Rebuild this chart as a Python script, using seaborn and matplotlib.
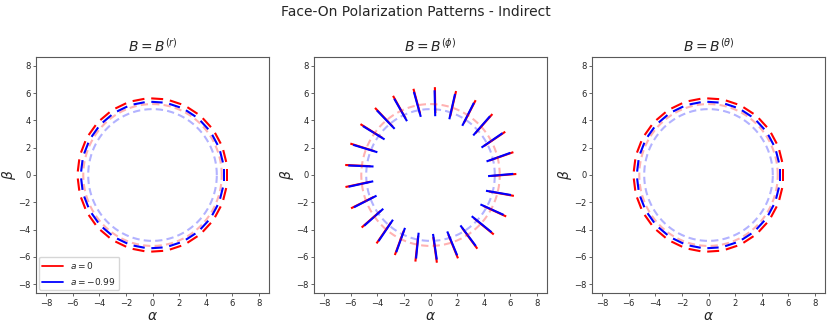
import numpy as np
import seaborn as sns
import matplotlib.pyplot as plt
from matplotlib.lines import Line2D

# sample points around the ring (degrees)
ring_angles = [0.0, 14.4, 28.8, 43.2, 57.6, 72.0, 86.4, 100.8, 115.2, 129.6, 144.0, 158.4,
               172.8, 187.2, 201.6, 216.0, 230.4, 244.8, 259.2, 273.6, 288.0, 302.4,
               316.8, 331.2, 345.6]

panel_titles = [r"$B = B^{(r)}$", r"$B = B^{(\phi)}$", r"$B = B^{(\theta)}$"]
spins = [r"$a = 0$", r"$a = -0.99$"]

# radius of the polarization ticks per panel
tick_radius_a0 = [5.6, 5.5, 5.6]
tick_radius_a099 = [5.35, 5.27, 5.35]
# tick lengths per panel
tick_length_a0 = [0.9, 1.9, 0.9]
tick_length_a099 = [0.85, 1.9, 0.85]
# polarization angle measured from the radial direction (deg)
evpa_a0 = [90.0, 4.5, 90.0]
evpa_a099 = [90.0, 5.0, 90.0]

# critical curve radii
critical_radius = [5.2, 4.83]

colors = ["red", "blue"]

sns.set_style("ticks")
plt.rcParams['font.family'] = ['DejaVu Sans']

fig = plt.figure(figsize=(8.31, 3.25), dpi=100)
lefts = [36 / 831, 314 / 831, 592 / 831]

phi = np.deg2rad(np.array(ring_angles))
circ = np.linspace(0, 2 * np.pi, 300)

for i in range(3):
    ax = fig.add_axes([lefts[i], 32 / 325, 233 / 831, 236 / 325])
    # faint critical curves
    for r, c in zip(critical_radius, colors):
        sns.lineplot(x=r * np.cos(circ), y=r * np.sin(circ), sort=False, estimator=None,
                     ax=ax, color=c, alpha=0.3, linestyle=(0, (3.5, 2)), linewidth=1.5)

    series = [(tick_radius_a0[i], tick_length_a0[i], evpa_a0[i]),
              (tick_radius_a099[i], tick_length_a099[i], evpa_a099[i])]
    for (r, L, chi), c in zip(series, colors):
        x = r * np.cos(phi)
        y = r * np.sin(phi)
        psi = phi + np.deg2rad(chi)
        ax.quiver(x, y, L * np.cos(psi), L * np.sin(psi), color=c, pivot='mid',
                  angles='xy', scale_units='xy', scale=1, width=0.009,
                  headwidth=0, headlength=0, headaxislength=0)

    ax.set_xlim(-8.75, 8.75)
    ax.set_ylim(-8.65, 8.65)
    ax.set_xticks(range(-8, 9, 2))
    ax.set_yticks(range(-8, 9, 2))
    ax.tick_params(labelsize=6, length=2, width=0.6, pad=2, color='0.3')
    for s in ax.spines.values():
        s.set_linewidth(0.8)
        s.set_color('0.35')
    ax.set_title(panel_titles[i], fontsize=10, pad=4)
    ax.set_xlabel(r"$\alpha$", fontsize=10, labelpad=1)
    ax.set_ylabel(r"$\beta$", fontsize=10, labelpad=0)
    if i == 0:
        handles = [Line2D([], [], color=c, linewidth=1.3) for c in colors]
        ax.legend(handles, spins, loc='lower left', fontsize=6.5, handlelength=2.3,
                  borderaxespad=0.3, frameon=True)

fig.suptitle("Face-On Polarization Patterns - Indirect", fontsize=10, y=0.985)
fig.savefig("out.png", dpi=100)
